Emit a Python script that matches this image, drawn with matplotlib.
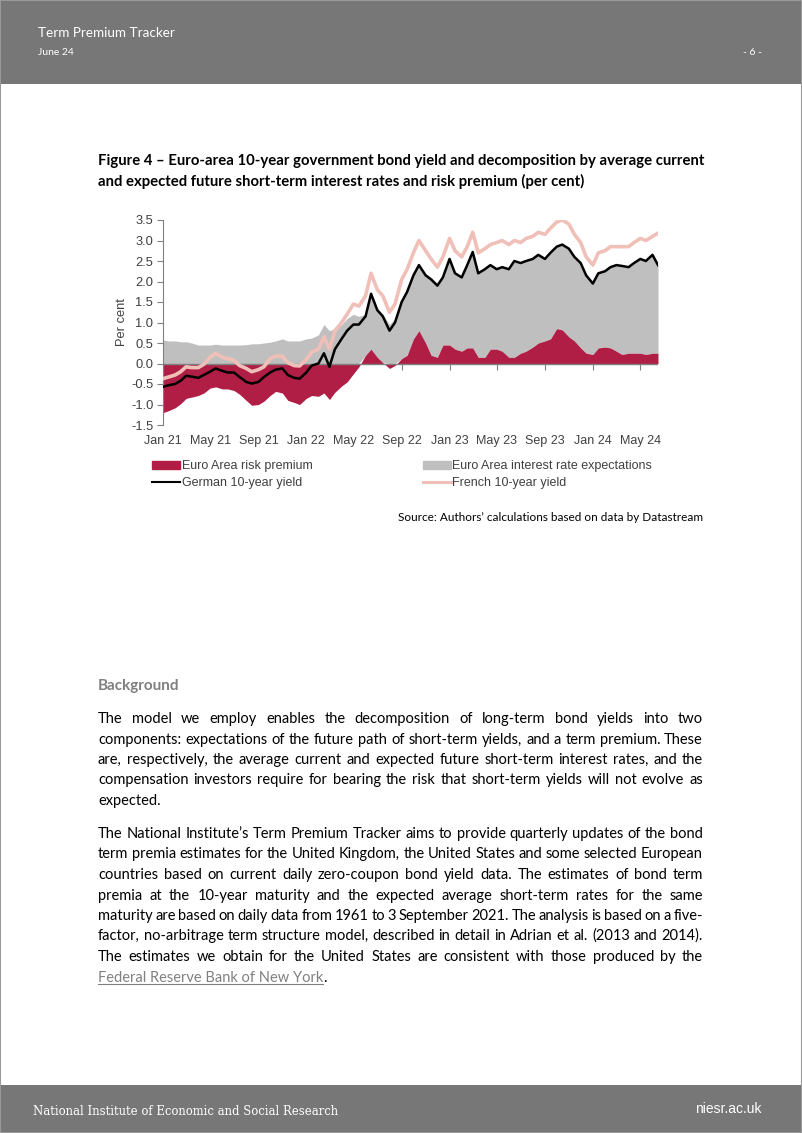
import pandas as pd
import matplotlib
matplotlib.use("Agg")
import matplotlib.pyplot as plt
from matplotlib.patches import Rectangle, Patch
from matplotlib.lines import Line2D

plt.rcParams["axes.unicode_minus"] = False

W, H = 802, 1133

# semi-monthly readings (1st and 15th of each month), Jan 2021 - Jun 2024
dates = pd.date_range("2021-01-01", "2024-06-15", freq="SMS")

german_yield = [
    -0.57, -0.53, -0.50, -0.42, -0.30, -0.32, -0.35, -0.28, -0.20, -0.12, -0.18, -0.22,
    -0.22, -0.33, -0.45, -0.49, -0.45, -0.33, -0.22, -0.15, -0.12, -0.28, -0.35, -0.37,
    -0.22, -0.05, 0.00, 0.25, -0.08, 0.35, 0.60, 0.80, 0.95, 0.95, 1.15, 1.70,
    1.30, 1.15, 0.80, 1.00, 1.50, 1.75, 2.15, 2.40, 2.15, 2.05, 1.90, 2.10,
    2.55, 2.20, 2.10, 2.40, 2.72, 2.20, 2.30, 2.40, 2.30, 2.35, 2.30, 2.50,
    2.45, 2.50, 2.55, 2.65, 2.55, 2.70, 2.85, 2.90, 2.80, 2.60, 2.45, 2.15,
    1.95, 2.20, 2.25, 2.35, 2.40, 2.38, 2.35, 2.45, 2.55, 2.50, 2.65, 2.40,
]
french_yield = [
    -0.37, -0.33, -0.28, -0.20, -0.08, -0.10, -0.10, -0.02, 0.15, 0.25, 0.15, 0.12,
    0.08, -0.05, -0.12, -0.20, -0.15, -0.08, 0.12, 0.18, 0.18, 0.02, -0.05, -0.06,
    0.10, 0.28, 0.35, 0.65, 0.35, 0.80, 1.00, 1.20, 1.45, 1.40, 1.65, 2.20,
    1.80, 1.65, 1.25, 1.45, 2.05, 2.30, 2.70, 3.00, 2.75, 2.55, 2.35, 2.60,
    3.05, 2.75, 2.60, 2.85, 3.20, 2.70, 2.80, 2.90, 2.95, 3.00, 2.90, 3.00,
    2.95, 3.05, 3.10, 3.20, 3.15, 3.30, 3.45, 3.50, 3.40, 3.15, 2.95, 2.60,
    2.40, 2.70, 2.75, 2.85, 2.85, 2.85, 2.85, 2.95, 3.05, 3.00, 3.10, 3.18,
]
risk_premium = [
    -1.20, -1.15, -1.08, -0.98, -0.85, -0.82, -0.78, -0.72, -0.60, -0.57, -0.62, -0.62,
    -0.66, -0.75, -0.90, -1.02, -1.00, -0.92, -0.78, -0.68, -0.72, -0.90, -0.95, -1.00,
    -0.85, -0.78, -0.80, -0.72, -0.88, -0.70, -0.55, -0.45, -0.25, -0.08, 0.20, 0.35,
    0.15, 0.02, -0.12, -0.05, 0.12, 0.20, 0.60, 0.80, 0.50, 0.20, 0.15, 0.45,
    0.45, 0.35, 0.30, 0.38, 0.38, 0.15, 0.15, 0.35, 0.35, 0.30, 0.15, 0.15,
    0.25, 0.30, 0.40, 0.50, 0.55, 0.60, 0.85, 0.82, 0.65, 0.55, 0.38, 0.25,
    0.22, 0.38, 0.40, 0.38, 0.30, 0.22, 0.25, 0.25, 0.25, 0.22, 0.25, 0.25,
]
rate_expectations = [
    0.57, 0.55, 0.55, 0.53, 0.53, 0.50, 0.45, 0.45, 0.45, 0.47, 0.45, 0.45,
    0.45, 0.45, 0.46, 0.48, 0.48, 0.50, 0.52, 0.55, 0.60, 0.55, 0.55, 0.55,
    0.60, 0.62, 0.70, 0.95, 0.80, 0.85, 0.95, 1.10, 1.20, 1.15, 1.00, 1.40,
    1.20, 1.18, 0.95, 1.10, 1.43, 1.60, 1.60, 1.62, 1.70, 1.90, 1.80, 1.70,
    2.12, 1.87, 1.82, 2.04, 2.36, 2.07, 2.17, 2.07, 1.97, 2.07, 2.17, 2.37,
    2.22, 2.22, 2.17, 2.17, 2.02, 2.12, 2.02, 2.10, 2.17, 2.07, 2.09, 1.92,
    1.75, 1.84, 1.87, 1.99, 2.12, 2.18, 2.12, 2.22, 2.32, 2.30, 2.42, 2.17,
]

tick_dates = pd.to_datetime(["2021-01-01", "2021-05-01", "2021-09-01", "2022-01-01",
                             "2022-05-01", "2022-09-01", "2023-01-01", "2023-05-01",
                             "2023-09-01", "2024-01-01", "2024-05-01"])
tick_labels = ["Jan 21", "May 21", "Sep 21", "Jan 22", "May 22", "Sep 22",
               "Jan 23", "May 23", "Sep 23", "Jan 24", "May 24"]

RED = "#B01E46"
GREY = "#BFBFBF"
PINK = "#F0C0B8"
AXIS = "#808080"
TXT = "#404040"


def fx(x):
    return x / W


def fy(y):
    return 1 - y / H


fig = plt.figure(figsize=(W / 100, H / 100), dpi=100)

# page header / footer bars
fig.patches.append(Rectangle((0, fy(84)), 1, 84 / H, transform=fig.transFigure,
                             facecolor="#777777", edgecolor="none"))
fig.patches.append(Rectangle((0, 0), 1, 48 / H, transform=fig.transFigure,
                             facecolor="#777777", edgecolor="none"))
fig.patches.append(Rectangle((0, 0), 1, 1, transform=fig.transFigure,
                             facecolor="none", edgecolor="#999999", lw=1.5))

fig.text(fx(38), fy(37), "Term Premium Tracker", family="Lato", fontsize=9.7, color="white")
fig.text(fx(38), fy(55), "June 24", family="Lato", fontsize=7.5, color="white")
fig.text(fx(762), fy(55), "- 6 -", family="Lato", fontsize=7.5, color="white", ha="right")
fig.text(fx(33), fy(1115), "National Institute of Economic and Social Research",
         family="DejaVu Serif", fontsize=8.4, color="white")
fig.text(fx(762), fy(1113), "niesr.ac.uk", family="Liberation Sans", fontsize=10,
         color="white", ha="right")

# figure title
fig.text(fx(98), fy(165), "Figure 4 \u2013 Euro-area 10-year government bond yield and "
         "decomposition by average current", family="Lato", weight="bold", fontsize=10.75)
fig.text(fx(98), fy(186), "and expected future short-term interest rates and risk premium "
         "(per cent)", family="Lato", weight="bold", fontsize=10.75)

# chart
ax = fig.add_axes([fx(163), fy(425), (658 - 163) / W, 205 / H])
pos_prem = [max(p, 0) for p in risk_premium]
stack_top = [b + e for b, e in zip(pos_prem, rate_expectations)]
ax.fill_between(dates, pos_prem, stack_top, color=GREY, lw=0, zorder=1)
ax.fill_between(dates, 0, risk_premium, color=RED, lw=0, zorder=2)
ax.axhline(0, color=AXIS, lw=1, zorder=3)
ax.plot(dates, french_yield, color=PINK, lw=2.6, zorder=4)
ax.plot(dates, german_yield, color="black", lw=1.8, zorder=5)

ax.set_xlim(dates[0], dates[-1])
ax.set_ylim(-1.5, 3.5)
ax.set_yticks([-1.5, -1.0, -0.5, 0.0, 0.5, 1.0, 1.5, 2.0, 2.5, 3.0, 3.5])
ax.set_yticklabels([f"{v:.1f}" for v in ax.get_yticks()])
ax.set_xticks(tick_dates)
ax.set_xticklabels(tick_labels)
for s in ["top", "right", "bottom"]:
    ax.spines[s].set_visible(False)
ax.spines["left"].set_color(AXIS)
ax.tick_params(axis="y", length=4, color=AXIS, labelsize=9.3, labelcolor=TXT, pad=3)
ax.tick_params(axis="x", length=0, labelsize=9, labelcolor=TXT, pad=7)
for lab in ax.get_xticklabels() + ax.get_yticklabels():
    lab.set_family("Liberation Sans")
ax.set_ylabel("Per cent", family="Liberation Sans", fontsize=9.3, color=TXT)
ax.yaxis.set_label_coords(-0.07, 0.5)
ax.patch.set_alpha(0)

# tick marks sitting on the zero line
zero_ax = ax.secondary_xaxis(1.5 / 5.0)
zero_ax.set_xticks(tick_dates)
zero_ax.set_xticklabels([])
zero_ax.spines["bottom"].set_visible(False)
zero_ax.tick_params(length=4, color=AXIS, direction="out")

handles = [Patch(color=RED), Line2D([], [], color="black", lw=1.5),
           Patch(color=GREY), Line2D([], [], color=PINK, lw=2.2)]
labels = ["Euro Area risk premium", "German 10-year yield",
          "Euro Area interest rate expectations", "French 10-year yield"]
fig.legend(handles, labels, loc="upper left", bbox_to_anchor=(fx(146), fy(454)),
           ncol=2, frameon=False, borderpad=0, handlelength=2.2, handletextpad=0.15,
           columnspacing=8.85, labelspacing=0.38,
           prop={"family": "Liberation Sans", "size": 9}, labelcolor=TXT)

fig.text(fx(703), fy(521), "Source: Authors\u2019 calculations based on data by Datastream",
         family="Lato", fontsize=8.5, ha="right")

# body text
BODY = 10.5
fig.text(fx(98), fy(690), "Background", family="Lato", weight="bold", fontsize=11,
         color="#808080")

para1 = [
    "The model we employ enables the decomposition of long-term bond yields into two",
    "components: expectations of the future path of short-term yields, and a term premium. These",
    "are, respectively, the average current and expected future short-term interest rates, and the",
    "compensation investors require for bearing the risk that short-term yields will not evolve as",
    "expected.",
]
para2 = [
    "The National Institute\u2019s Term Premium Tracker aims to provide quarterly updates of the bond",
    "term premia estimates for the United Kingdom, the United States and some selected European",
    "countries based on current daily zero-coupon bond yield data. The estimates of bond term",
    "premia at the 10-year maturity and the expected average short-term rates for the same",
    "maturity are based on daily data from 1961 to 3 September 2021. The analysis is based on a five-",
    "factor, no-arbitrage term structure model, described in detail in Adrian et al. (2013 and 2014).",
    "The estimates we obtain for the United States are consistent with those produced by the",
]

renderer = fig.canvas.get_renderer()


def text_width(s):
    t = fig.text(0, 0, s, family="Lato", fontsize=BODY)
    w = t.get_window_extent(renderer).width
    t.remove()
    return w


space_w = text_width("a a") - 2 * text_width("a")


def justified(lines, y0, dy, width=605, justify_last=False):
    for i, line in enumerate(lines):
        # whole-pixel baselines keep the words of a line level
        y = round(y0 + i * dy)
        words = line.split(" ")
        texts = [fig.text(0, fy(y), w, family="Lato", fontsize=BODY, va="baseline")
                 for w in words]
        widths = [t.get_window_extent(renderer).width for t in texts]
        last = i == len(lines) - 1 and not justify_last
        gap = space_w if last or len(words) == 1 else (width - sum(widths)) / (len(words) - 1)
        x = 98
        for t, w in zip(texts, widths):
            t.set_x(fx(x))
            x += w + gap


justified(para1, 723, 20.5)
justified(para2, 838, 20.5, justify_last=True)

link_y = round(838 + 7 * 20.5)
link = fig.text(fx(98), fy(link_y), "Federal Reserve Bank of New York",
                family="Lato", fontsize=BODY, va="baseline", color="#808080")
lw_px = link.get_window_extent(renderer).width
fig.text(fx(98 + lw_px), fy(link_y), ".", family="Lato", fontsize=BODY, va="baseline")
fig.add_artist(Line2D([fx(98), fx(98 + lw_px)], [fy(link_y + 2)] * 2,
                      color="#808080", lw=0.8))

fig.savefig("out.png", dpi=100)
